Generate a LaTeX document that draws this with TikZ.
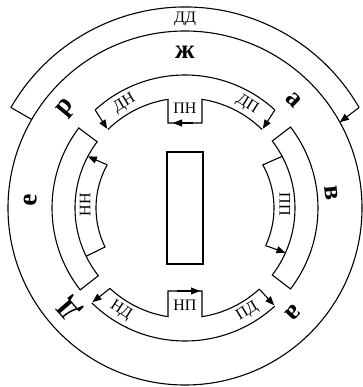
\documentclass[tikz,border=0pt]{standalone}
\usepackage{fontspec}
\setmainfont{Liberation Serif}
\usetikzlibrary{arrows.meta}
\begin{document}
\begin{tikzpicture}[x=1pt,y=1pt, line width=1.1pt,
  tri/.style={-{Triangle[length=9pt,width=7pt]}},
  small/.style={font=\fontsize{16}{16}\selectfont, inner sep=0pt},
  big/.style={font=\bfseries\fontsize{27}{27}\selectfont, inner sep=0pt}]
\useasboundingbox (-185pt,-179pt) rectangle (177pt,208pt);
% outer circle
\draw (0,0) circle[radius=177pt];
% DD band
\draw (150:177pt) -- (150:201pt) arc[start angle=150,end angle=30,radius=201pt];
\draw[tri] (30:201pt) -- (29:177pt);
% top band
\draw (47.5:133pt) arc[start angle=47.5,end angle=132.5,radius=133pt];
\draw[tri] (132.5:133pt) -- (134.5:111pt);
\draw[tri] (47.5:133pt) -- (45.5:111pt);
\draw (134.5:110pt) arc[start angle=134.5,end angle=98.9,radius=110pt] -- (-17pt,85pt) -- (17pt,85pt) -- (81.1:110pt) arc[start angle=81.1,end angle=45.5,radius=110pt];
\draw[tri] (8pt,85pt) -- (-12pt,85pt);
% bottom band
\draw (225.5:133pt) arc[start angle=225.5,end angle=312.5,radius=133pt];
\draw[tri] (227:110pt) -- (225.5:132pt);
\draw[tri] (312.5:110pt) -- (312.5:132pt);
\draw (227:110pt) arc[start angle=227,end angle=261.1,radius=110pt] -- (-17pt,-83pt) -- (17pt,-83pt) -- (278.9:110pt) arc[start angle=278.9,end angle=312.5,radius=110pt];
\draw[tri] (-8pt,-83pt) -- (15pt,-83pt);
% left outer band
\draw (143:133pt) arc[start angle=143,end angle=218,radius=133pt] -- (218:110pt) arc[start angle=218,end angle=143,radius=110pt] -- cycle;
% NN band
\draw (206:110pt) -- (206:89pt) arc[start angle=206,end angle=151,radius=89pt];
\draw[tri] (151:89pt) -- (152:110pt);
% right outer band
\draw (-37.5:133pt) arc[start angle=-37.5,end angle=37.5,radius=133pt] -- (37.5:110pt) arc[start angle=37.5,end angle=-37.5,radius=110pt] -- cycle;
% PP band
\draw (28:110pt) -- (29:89pt) arc[start angle=29,end angle=-25,radius=89pt];
\draw[tri] (-25:89pt) -- (-24:110pt);
% centre rectangle
\draw[line width=1.6pt] (-18pt,-56pt) rectangle (18pt,56pt);
% labels
\node[small] (ldd) at (0pt,189pt) {ДД};
\node[small,rotate=31] (ldn) at (120:121pt) {ДН};
\node[small,rotate=-32] (ldp) at (59:121pt) {ДП};
\node[small] (lpn) at (0pt,100pt) {ПН};
\node[small] (lnp) at (0pt,-97pt) {НП};
\node[small,rotate=-33] (lnd) at (238:121pt) {НД};
\node[small,rotate=31] (lpd) at (301:121pt) {ПД};
\node[small,rotate=90] (lnn) at (178:100pt) {НН};
\node[small,rotate=-90] (lpp) at (2:100pt) {ПП};
\node[big] (lzh) at (0pt,156pt) {ж};
\node[big,rotate=-45] (la) at (45:153pt) {а};
\node[big,rotate=-84] (lv) at (6:147pt) {в};
\node[big,rotate=-134] (lg) at (-44:150pt) {а};
\node[big,rotate=131] (ld) at (221:153pt) {Д};
\node[big,rotate=87] (le) at (177:155pt) {е};
\node[big,rotate=50] (lr) at (140:155pt) {р};
\end{tikzpicture}
\end{document}
